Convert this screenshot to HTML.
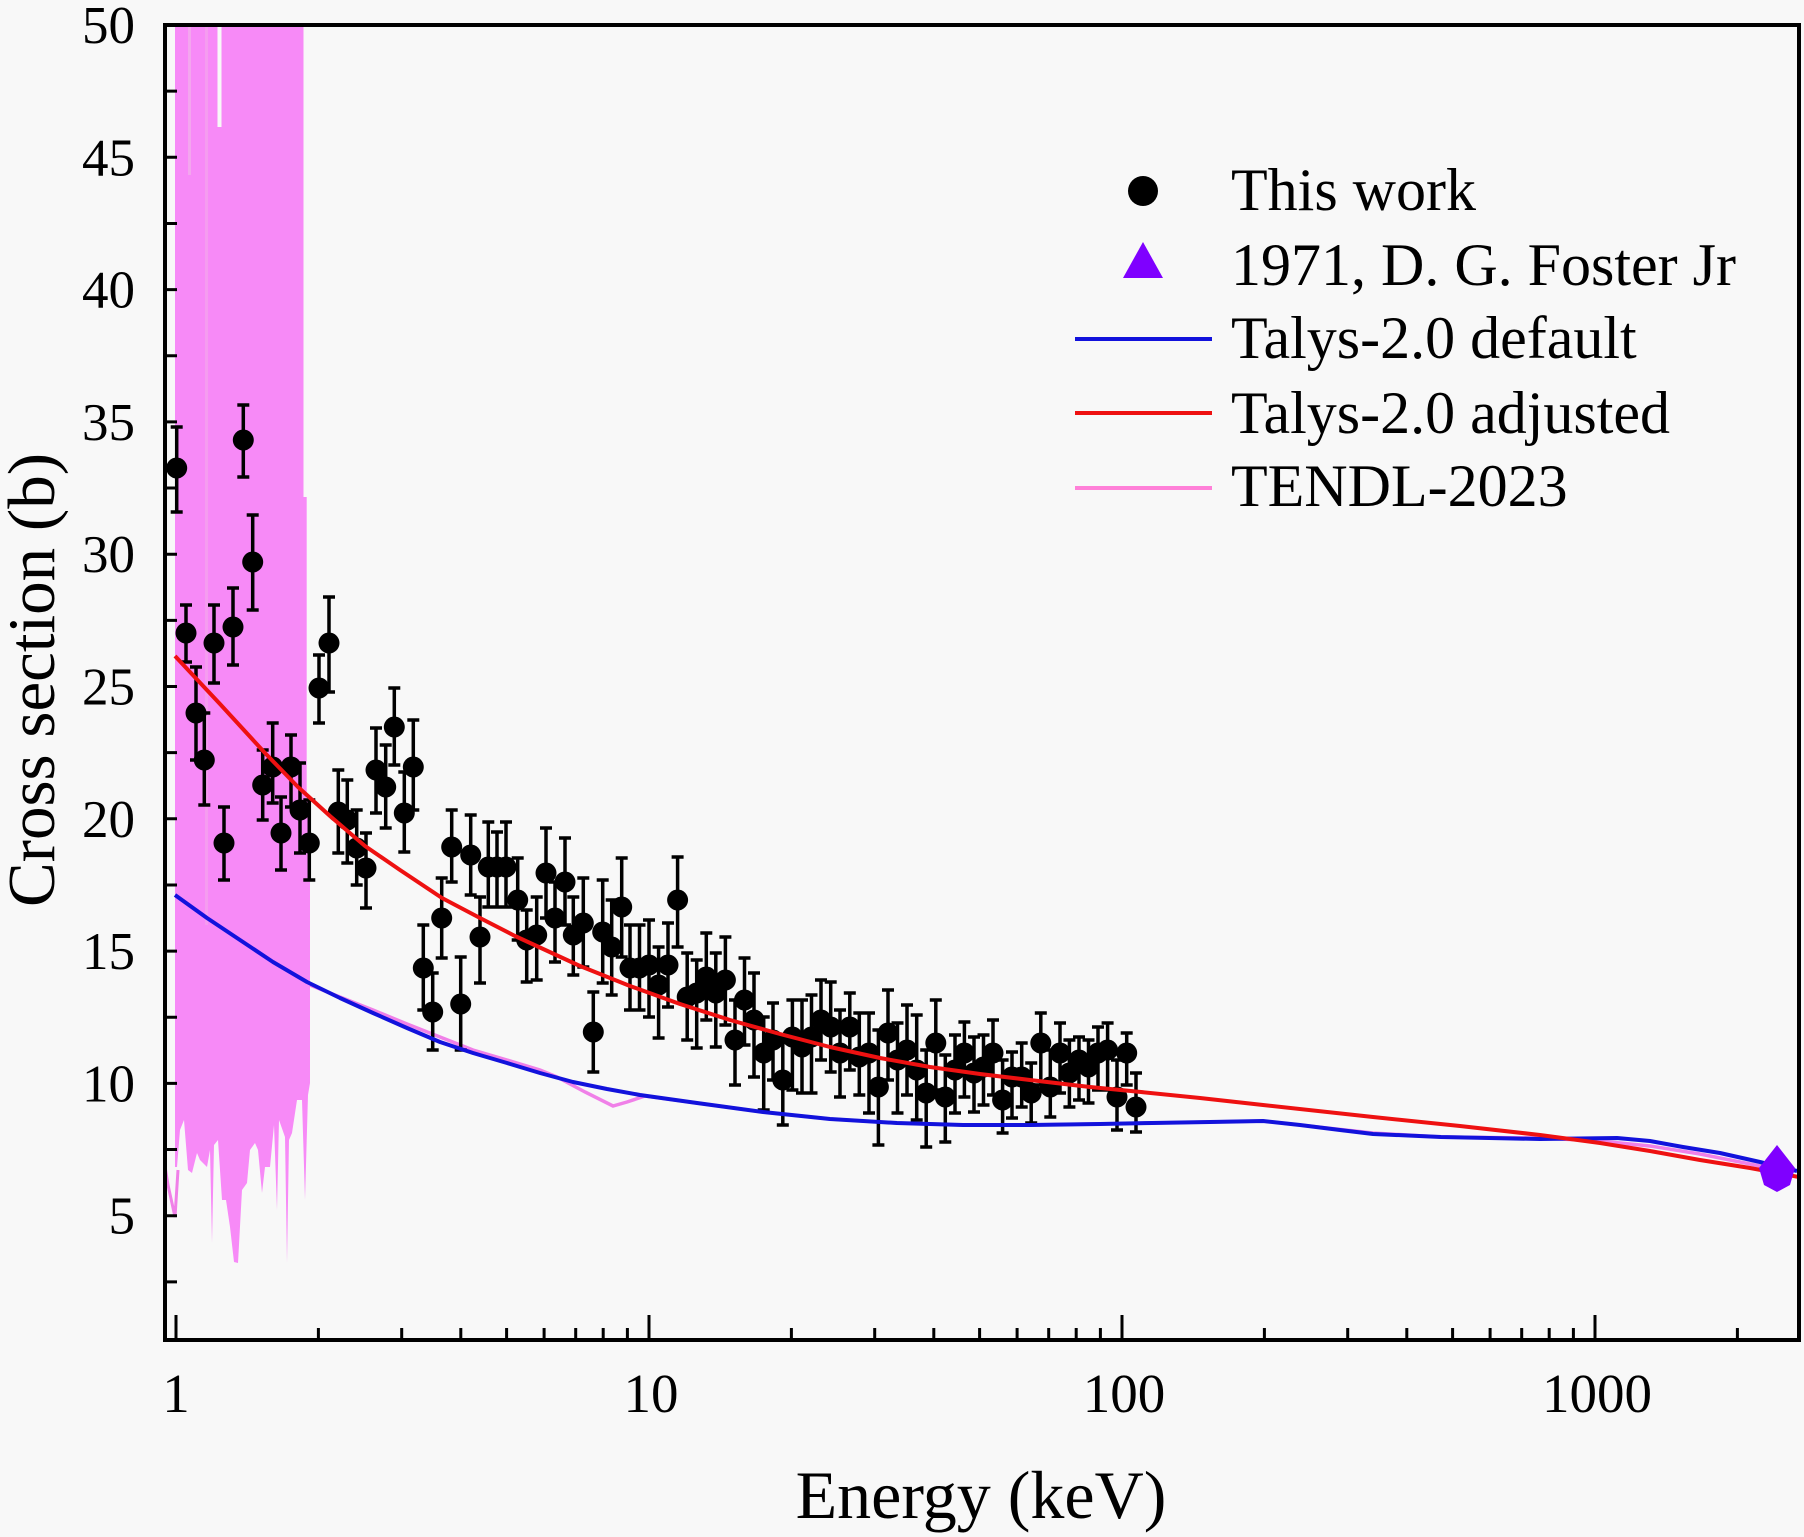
<!DOCTYPE html>
<html><head><meta charset="utf-8"><style>
html,body{margin:0;padding:0;background:#f8f8f8;}
svg{display:block;}
text{font-family:"Liberation Serif","Times New Roman",serif;fill:#000;}
</style></head><body>
<svg width="1804" height="1537" viewBox="0 0 1804 1537" xmlns="http://www.w3.org/2000/svg">
<rect x="0" y="0" width="1804" height="1537" fill="#f8f8f8"/>
<defs><clipPath id="pa"><rect x="165" y="25" width="1634" height="1315"/></clipPath></defs>
<g clip-path="url(#pa)">
<!-- TENDL resonance fill -->
<path fill="#f78af7" d="M175,25 H303.5 V497 H306.7 V800 H310 V1083 L308,1095 L305,1200 L302,1100 L297,1100 L292,1133 L289,1140 L287,1263 L285,1137 L279,1120 L277,1210 L274,1125 L270,1167 L265,1167 L262,1193 L258,1150 L255,1143 L250,1150 L247,1183 L242,1190 L238,1263 L234,1262 L230,1227 L226,1200 L222,1200 L218,1140 L214,1145 L212,1243 L210,1150 L207,1167 L200,1160 L197,1153 L192,1173 L188,1170 L184,1120 L180,1130 L177,1167 L175,1167 Z"/>
<rect x="217.5" y="25" width="4" height="102" fill="#f8f8f8"/>
<rect x="188" y="25" width="3" height="150" fill="#f3a6ee"/>
<rect x="205" y="25" width="3" height="900" fill="#f59cf0"/>
<polyline fill="none" stroke="#f080e8" stroke-width="3" points="164,1160 168,1185 175,1217 178,1170"/>
<polyline fill="none" stroke="#f080e8" stroke-width="3.5" points="310,985 340,997 373,1010 407,1024 440,1037 473,1050 507,1060 540,1070 557,1077 585,1092 613,1106 627,1102 645,1096 697,1103 763,1112 830,1119 897,1123 963,1125 1030,1125 1152,1123 1263,1121 1373,1133 1441,1137 1540,1138 1600,1141 1650,1146 1700,1154 1760,1166 1790,1172"/>
<!-- error bars -->
<path fill="none" stroke="#000" stroke-width="3.5" d="M176.7 427V512M170.7 427h12M170.7 512h12M186 605V662M180 605h12M180 662h12M196 667V760M190 667h12M190 760h12M204.3 713V805M198.3 713h12M198.3 805h12M214 605V683M208 605h12M208 683h12M224 807V880M218 807h12M218 880h12M233 588V665M227 588h12M227 665h12M243.3 405V477M237.3 405h12M237.3 477h12M252.7 515V610M246.7 515h12M246.7 610h12M262.7 750V820M256.7 750h12M256.7 820h12M272.7 723V803M266.7 723h12M266.7 803h12M281 797V870M275 797h12M275 870h12M291 735V807M285 735h12M285 807h12M300 763V853M294 763h12M294 853h12M309.3 800V880M303.3 800h12M303.3 880h12M319 655V723M313 655h12M313 723h12M329 597V692M323 597h12M323 692h12M338.3 770V853M332.3 770h12M332.3 853h12M347.3 780V863M341.3 780h12M341.3 863h12M356.7 810V885M350.7 810h12M350.7 885h12M366 833V908M360 833h12M360 908h12M376 728V813M370 728h12M370 813h12M385.7 745V828M379.7 745h12M379.7 828h12M394.3 688V765M388.3 688h12M388.3 765h12M404.3 772V852M398.3 772h12M398.3 852h12M413.3 720V810M407.3 720h12M407.3 810h12M423.3 925V1010M417.3 925h12M417.3 1010h12M432.7 973V1050M426.7 973h12M426.7 1050h12M441.7 878V958M435.7 878h12M435.7 958h12M451.7 810V882M445.7 810h12M445.7 882h12M460.7 957V1050M454.7 957h12M454.7 1050h12M470.7 815V895M464.7 815h12M464.7 895h12M480 897V983M474 897h12M474 983h12M488.3 822V907M482.3 822h12M482.3 907h12M497 832V907M491 832h12M491 907h12M506 822V907M500 822h12M500 907h12M517.7 858V940M511.7 858h12M511.7 940h12M526.7 910V982M520.7 910h12M520.7 982h12M536.7 897V980M530.7 897h12M530.7 980h12M546 828V918M540 828h12M540 918h12M555 882V962M549 882h12M549 962h12M565 838V925M559 838h12M559 925h12M573.3 897V975M567.3 897h12M567.3 975h12M583.3 878V967M577.3 878h12M577.3 967h12M593.3 992V1072M587.3 992h12M587.3 1072h12M602.7 880V983M596.7 880h12M596.7 983h12M611.7 900V995M605.7 900h12M605.7 995h12M621.7 858V957M615.7 858h12M615.7 957h12M630 925V1010M624 925h12M624 1010h12M639.5 925V1010M633.5 925h12M633.5 1010h12M649 920V1017M643 920h12M643 1017h12M658.6 947V1038M652.6 947h12M652.6 1038h12M668 923V1007M662 923h12M662 1007h12M677.6 857V947M671.6 857h12M671.6 947h12M687.2 953V1040M681.2 953h12M681.2 1040h12M696.7 960V1048M690.7 960h12M690.7 1048h12M706.3 933V1020M700.3 933h12M700.3 1020h12M715.8 953V1047M709.8 953h12M709.8 1047h12M725.4 937V1025M719.4 937h12M719.4 1025h12M735 1000V1085M729 1000h12M729 1085h12M744.5 958V1045M738.5 958h12M738.5 1045h12M754 973V1077M748 973h12M748 1077h12M763.7 1017V1110M757.7 1017h12M757.7 1110h12M773 1003V1080M767 1003h12M767 1080h12M782.8 1040V1125M776.8 1040h12M776.8 1125h12M792.4 1000V1090M786.4 1000h12M786.4 1090h12M802 1000V1093M796 1000h12M796 1093h12M811.5 995V1093M805.5 995h12M805.5 1093h12M821 980V1060M815 980h12M815 1060h12M830.7 982V1072M824.7 982h12M824.7 1072h12M840 1010V1097M834 1010h12M834 1097h12M849.8 993V1070M843.8 993h12M843.8 1070h12M859.3 1013V1095M853.3 1013h12M853.3 1095h12M869 1013V1113M863 1013h12M863 1113h12M878.4 1030V1145M872.4 1030h12M872.4 1145h12M888 990V1080M882 990h12M882 1080h12M897.5 1023V1113M891.5 1023h12M891.5 1113h12M907 1005V1095M901 1005h12M901 1095h12M916.7 1015V1120M910.7 1015h12M910.7 1120h12M926.2 1050V1147M920.2 1050h12M920.2 1147h12M935.8 1000V1090M929.8 1000h12M929.8 1090h12M945.3 1055V1142M939.3 1055h12M939.3 1142h12M955 1035V1113M949 1035h12M949 1113h12M964.4 1022V1097M958.4 1022h12M958.4 1097h12M974 1037V1112M968 1037h12M968 1112h12M983.5 1035V1105M977.5 1035h12M977.5 1105h12M993 1020V1095M987 1020h12M987 1095h12M1002.6 1060V1133M996.6 1060h12M996.6 1133h12M1012 1052V1118M1006 1052h12M1006 1118h12M1021.7 1043V1107M1015.7 1043h12M1015.7 1107h12M1031.2 1063V1123M1025.2 1063h12M1025.2 1123h12M1040.8 1013V1085M1034.8 1013h12M1034.8 1085h12M1050.3 1050V1117M1044.3 1050h12M1044.3 1117h12M1060 1023V1093M1054 1023h12M1054 1093h12M1069.4 1040V1107M1063.4 1040h12M1063.4 1107h12M1079 1037V1100M1073 1037h12M1073 1100h12M1088.5 1040V1103M1082.5 1040h12M1082.5 1103h12M1098 1027V1090M1092 1027h12M1092 1090h12M1107.6 1023V1090M1101.6 1023h12M1101.6 1090h12M1117 1060V1130M1111 1060h12M1111 1130h12M1126.7 1033V1085M1120.7 1033h12M1120.7 1085h12M1136 1073V1132M1130 1073h12M1130 1132h12"/>
<!-- data points -->
<g fill="#000">
<circle cx="176.7" cy="468" r="10.5"/><circle cx="186" cy="633" r="10.5"/><circle cx="196" cy="713" r="10.5"/><circle cx="204.3" cy="760" r="10.5"/><circle cx="214" cy="643" r="10.5"/><circle cx="224" cy="843" r="10.5"/><circle cx="233" cy="627" r="10.5"/><circle cx="243.3" cy="440" r="10.5"/><circle cx="252.7" cy="562" r="10.5"/><circle cx="262.7" cy="785" r="10.5"/><circle cx="272.7" cy="767" r="10.5"/><circle cx="281" cy="833" r="10.5"/><circle cx="291" cy="767" r="10.5"/><circle cx="300" cy="810" r="10.5"/><circle cx="309.3" cy="843" r="10.5"/><circle cx="319" cy="688" r="10.5"/><circle cx="329" cy="643" r="10.5"/><circle cx="338.3" cy="812" r="10.5"/><circle cx="347.3" cy="820" r="10.5"/><circle cx="356.7" cy="848" r="10.5"/><circle cx="366" cy="868" r="10.5"/><circle cx="376" cy="770" r="10.5"/><circle cx="385.7" cy="787" r="10.5"/><circle cx="394.3" cy="727" r="10.5"/><circle cx="404.3" cy="813" r="10.5"/><circle cx="413.3" cy="767" r="10.5"/><circle cx="423.3" cy="968" r="10.5"/><circle cx="432.7" cy="1012" r="10.5"/><circle cx="441.7" cy="918" r="10.5"/><circle cx="451.7" cy="847" r="10.5"/><circle cx="460.7" cy="1004" r="10.5"/><circle cx="470.7" cy="855" r="10.5"/><circle cx="480" cy="937" r="10.5"/><circle cx="488.3" cy="867" r="10.5"/><circle cx="497" cy="867" r="10.5"/><circle cx="506" cy="867" r="10.5"/><circle cx="517.7" cy="900" r="10.5"/><circle cx="526.7" cy="940" r="10.5"/><circle cx="536.7" cy="935" r="10.5"/><circle cx="546" cy="873" r="10.5"/><circle cx="555" cy="918" r="10.5"/><circle cx="565" cy="882" r="10.5"/><circle cx="573.3" cy="935" r="10.5"/><circle cx="583.3" cy="923" r="10.5"/><circle cx="593.3" cy="1032" r="10.5"/><circle cx="602.7" cy="932" r="10.5"/><circle cx="611.7" cy="947" r="10.5"/><circle cx="621.7" cy="907" r="10.5"/><circle cx="630" cy="968" r="10.5"/><circle cx="639.5" cy="968" r="10.5"/><circle cx="649" cy="965" r="10.5"/><circle cx="658.6" cy="985" r="10.5"/><circle cx="668" cy="965" r="10.5"/><circle cx="677.6" cy="900" r="10.5"/><circle cx="687.2" cy="997" r="10.5"/><circle cx="696.7" cy="993" r="10.5"/><circle cx="706.3" cy="977" r="10.5"/><circle cx="715.8" cy="993" r="10.5"/><circle cx="725.4" cy="980" r="10.5"/><circle cx="735" cy="1040" r="10.5"/><circle cx="744.5" cy="1000" r="10.5"/><circle cx="754" cy="1020" r="10.5"/><circle cx="763.7" cy="1053" r="10.5"/><circle cx="773" cy="1040" r="10.5"/><circle cx="782.8" cy="1080" r="10.5"/><circle cx="792.4" cy="1037" r="10.5"/><circle cx="802" cy="1047" r="10.5"/><circle cx="811.5" cy="1037" r="10.5"/><circle cx="821" cy="1020" r="10.5"/><circle cx="830.7" cy="1027" r="10.5"/><circle cx="840" cy="1053" r="10.5"/><circle cx="849.8" cy="1027" r="10.5"/><circle cx="859.3" cy="1057" r="10.5"/><circle cx="869" cy="1053" r="10.5"/><circle cx="878.4" cy="1087" r="10.5"/><circle cx="888" cy="1033" r="10.5"/><circle cx="897.5" cy="1060" r="10.5"/><circle cx="907" cy="1050" r="10.5"/><circle cx="916.7" cy="1070" r="10.5"/><circle cx="926.2" cy="1093" r="10.5"/><circle cx="935.8" cy="1043" r="10.5"/><circle cx="945.3" cy="1097" r="10.5"/><circle cx="955" cy="1070" r="10.5"/><circle cx="964.4" cy="1053" r="10.5"/><circle cx="974" cy="1073" r="10.5"/><circle cx="983.5" cy="1067" r="10.5"/><circle cx="993" cy="1053" r="10.5"/><circle cx="1002.6" cy="1100" r="10.5"/><circle cx="1012" cy="1077" r="10.5"/><circle cx="1021.7" cy="1077" r="10.5"/><circle cx="1031.2" cy="1093" r="10.5"/><circle cx="1040.8" cy="1043" r="10.5"/><circle cx="1050.3" cy="1087" r="10.5"/><circle cx="1060" cy="1053" r="10.5"/><circle cx="1069.4" cy="1073" r="10.5"/><circle cx="1079" cy="1060" r="10.5"/><circle cx="1088.5" cy="1067" r="10.5"/><circle cx="1098" cy="1053" r="10.5"/><circle cx="1107.6" cy="1050" r="10.5"/><circle cx="1117" cy="1097" r="10.5"/><circle cx="1126.7" cy="1053" r="10.5"/><circle cx="1136" cy="1107" r="10.5"/>
</g>
<!-- Talys default (blue) -->
<polyline fill="none" stroke="#1212dc" stroke-width="4" stroke-linejoin="round" points="175,895 207,918 240,940 273,962 307,982 340,998 373,1013 407,1028 440,1042 473,1053 507,1063 540,1073 573,1082 607,1089 640,1095 697,1103 763,1112 830,1119 897,1123 963,1125 1030,1125 1100,1124 1152,1123 1210,1122 1263,1121 1300,1125 1340,1130 1373,1134 1441,1137 1540,1139 1617,1138 1650,1141 1683,1147 1720,1153 1760,1162 1797,1171"/>
<!-- Talys adjusted (red) -->
<polyline fill="none" stroke="#ee1111" stroke-width="4" stroke-linejoin="round" points="175,656 220,704 265,753 298,787 330,816 365,846 400,870 442,898 480,918 515,936 580,966 630,986 680,1004 730,1020 780,1034 830,1047 880,1058 930,1067 980,1074 1030,1080 1090,1087 1141,1092 1200,1098 1263,1105 1373,1117 1460,1126 1540,1135 1600,1143 1650,1151 1700,1160 1750,1168 1799,1177"/>
<!-- Foster 1971 -->
<polygon fill="#7f00ff" points="1777,1145 1795,1168 1790,1185 1777,1192 1764,1185 1759,1168"/>
</g>
<!-- axes frame -->
<rect x="165" y="25" width="1634" height="1315" fill="none" stroke="#000" stroke-width="4"/>
<!-- x ticks -->
<path stroke="#000" stroke-width="3" fill="none" d="M176 1340V1315M649 1340V1315M1122 1340V1315M1595 1340V1315M318.4 1340V1328M401.7 1340V1328M460.8 1340V1328M506.6 1340V1328M544.1 1340V1328M575.7 1340V1328M603.2 1340V1328M627.4 1340V1328M791.4 1340V1328M874.7 1340V1328M933.8 1340V1328M979.6 1340V1328M1017.1 1340V1328M1048.7 1340V1328M1076.2 1340V1328M1100.4 1340V1328M1264.4 1340V1328M1347.7 1340V1328M1406.8 1340V1328M1452.6 1340V1328M1490.1 1340V1328M1521.7 1340V1328M1549.2 1340V1328M1573.4 1340V1328M1737.4 1340V1328"/>
<!-- y ticks -->
<path stroke="#000" stroke-width="3" fill="none" d="M165 91.15h12M165 157.3h12M165 223.45h12M165 289.6h12M165 355.75h12M165 421.9h12M165 488.05h12M165 554.2h12M165 620.35h12M165 686.5h12M165 752.65h12M165 818.8h12M165 884.95h12M165 951.1h12M165 1017.25h12M165 1083.4h12M165 1149.55h12M165 1215.7h12M165 1281.85h12"/>
<!-- y tick labels -->
<g font-size="53" text-anchor="end">
<text x="135" y="43">50</text>
<text x="135" y="175.3">45</text>
<text x="135" y="307.6">40</text>
<text x="135" y="439.9">35</text>
<text x="135" y="572.2">30</text>
<text x="135" y="704.5">25</text>
<text x="135" y="836.8">20</text>
<text x="135" y="969.1">15</text>
<text x="135" y="1101.4">10</text>
<text x="135" y="1233.7">5</text>
</g>
<!-- x tick labels -->
<g font-size="55" text-anchor="middle">
<text x="176" y="1412">1</text>
<text x="651" y="1412">10</text>
<text x="1124" y="1412">100</text>
<text x="1597" y="1412">1000</text>
</g>
<text x="981" y="1518" font-size="68" text-anchor="middle">Energy (keV)</text>
<text transform="translate(54,680) rotate(-90)" font-size="67" text-anchor="middle">Cross section (b)</text>
<!-- legend -->
<circle cx="1143" cy="191" r="15" fill="#000"/>
<polygon fill="#7f00ff" points="1143,242 1163,278 1123,278"/>
<line x1="1075" y1="339" x2="1212" y2="339" stroke="#1212dc" stroke-width="4"/>
<line x1="1075" y1="413" x2="1212" y2="413" stroke="#ee1111" stroke-width="4"/>
<line x1="1075" y1="488" x2="1212" y2="488" stroke="#ff80d8" stroke-width="4"/>
<g font-size="60">
<text x="1231" y="210">This work</text>
<text x="1231" y="285">1971, D. G. Foster Jr</text>
<text x="1231" y="358">Talys-2.0 default</text>
<text x="1231" y="433">Talys-2.0 adjusted</text>
<text x="1231" y="506">TENDL-2023</text>
</g>
</svg>
</body></html>
